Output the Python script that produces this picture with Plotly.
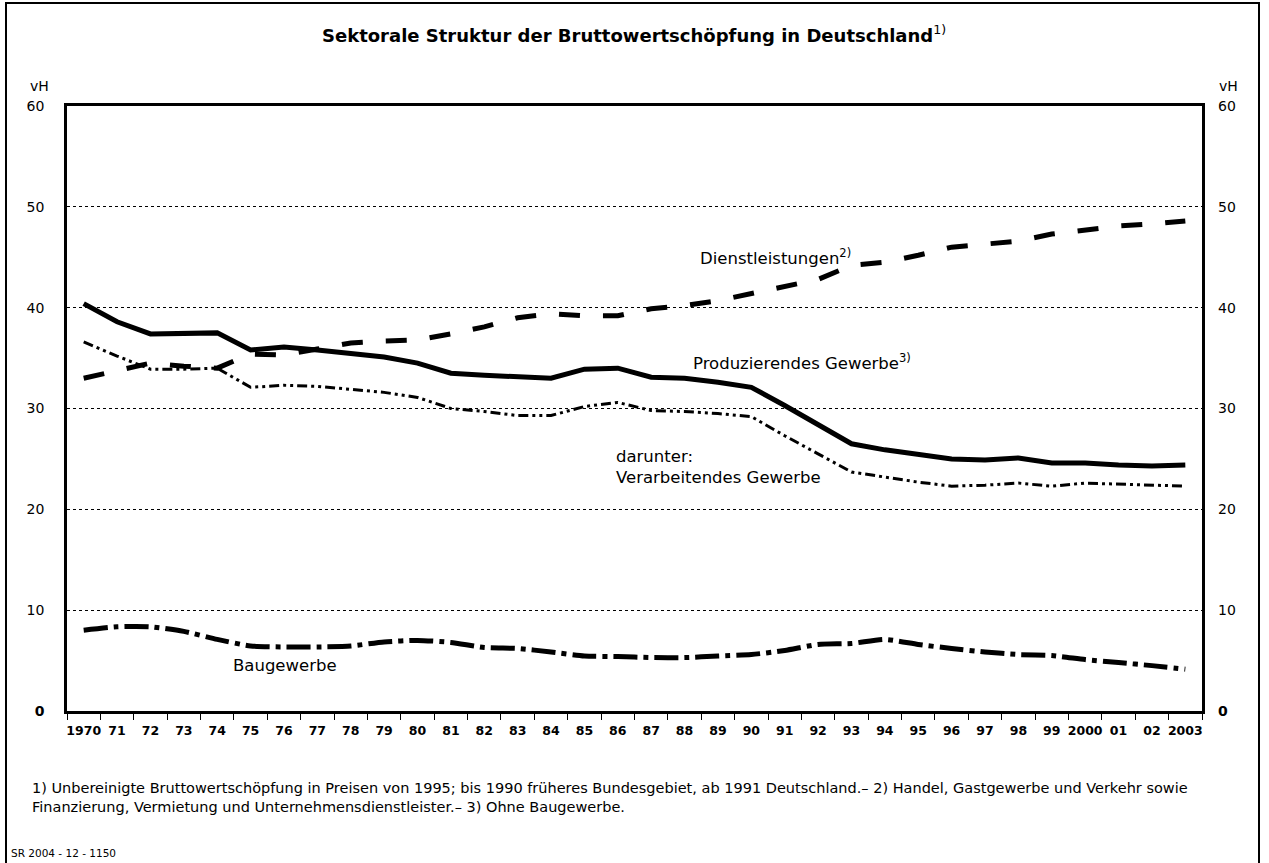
import plotly.graph_objects as go

# Jahre (Kategorien der x-Achse)
jahre = ["1970", "71", "72", "73", "74", "75", "76", "77", "78", "79", "80",
         "81", "82", "83", "84", "85", "86", "87", "88", "89", "90", "91",
         "92", "93", "94", "95", "96", "97", "98", "99", "2000", "01", "02", "2003"]

# Anteile an der Bruttowertschöpfung in vH
produzierendes = [40.4, 38.6, 37.4, 37.5, 37.5, 35.8, 36.1, 35.8, 35.4, 35.1, 34.5,
                  33.5, 33.3, 33.1, 33.0, 33.9, 34.0, 33.1, 33.0, 32.6, 32.1, 30.3,
                  28.4, 26.5, 25.9, 25.4, 25.0, 24.9, 25.1, 24.6, 24.6, 24.4, 24.3, 24.4]
dienstleistungen = [33.0, 33.8, 34.5, 34.2, 34.0, 35.4, 35.3, 35.9, 36.5, 36.7, 36.8,
                    37.4, 38.1, 39.0, 39.4, 39.2, 39.2, 39.9, 40.2, 40.7, 41.4, 42.0,
                    42.8, 44.2, 44.5, 45.2, 46.0, 46.3, 46.6, 47.3, 47.7, 48.1, 48.3, 48.6]
verarbeitendes = [36.6, 35.2, 33.9, 33.9, 34.0, 32.1, 32.3, 32.2, 31.9, 31.6, 31.1,
                  30.0, 29.7, 29.3, 29.3, 30.2, 30.6, 29.8, 29.7, 29.5, 29.2, 27.3,
                  25.5, 23.7, 23.2, 22.7, 22.3, 22.4, 22.6, 22.3, 22.6, 22.5, 22.4, 22.3]
baugewerbe = [8.0, 8.35, 8.35, 7.9, 7.1, 6.45, 6.35, 6.35, 6.45, 6.85, 7.0,
              6.8, 6.3, 6.2, 5.85, 5.45, 5.4, 5.3, 5.3, 5.45, 5.6, 6.0,
              6.6, 6.7, 7.1, 6.6, 6.2, 5.85, 5.6, 5.5, 5.1, 4.8, 4.5, 4.15]

y_ticks = [0, 10, 20, 30, 40, 50, 60]
y_ticktext = ["<b>0</b>", "10", "20", "30", "40", "50", "60"]

FONT = "DejaVu Sans, sans-serif"

fig = go.Figure()

fig.add_trace(go.Scatter(x=jahre, y=dienstleistungen, mode="lines",
                         line=dict(color="black", width=5, dash="21px,23px"),
                         name="Dienstleistungen"))
fig.add_trace(go.Scatter(x=jahre, y=verarbeitendes, mode="lines",
                         line=dict(color="black", width=3,
                                   dash="10px,4px,3px,4px,3px,4px"),
                         name="Verarbeitendes Gewerbe"))
fig.add_trace(go.Scatter(x=jahre, y=produzierendes, mode="lines",
                         line=dict(color="black", width=5),
                         name="Produzierendes Gewerbe"))
fig.add_trace(go.Scatter(x=jahre, y=baugewerbe, mode="lines",
                         line=dict(color="black", width=5, shape="spline",
                                   smoothing=0.6, dash="24px,6px,5px,6px"),
                         name="Baugewerbe"))
# rechte Skala (gleiche Werte wie links), ohne eigene Zeichnung
fig.add_trace(go.Scatter(x=jahre, y=baugewerbe, yaxis="y2", mode="none",
                         showlegend=False, hoverinfo="skip"))

axis_font = dict(family=FONT, size=14, color="black")

fig.update_layout(
    width=1269, height=863,
    margin=dict(l=67, r=67, t=106, b=152),
    paper_bgcolor="white", plot_bgcolor="white",
    showlegend=False,
    xaxis=dict(type="category", categoryorder="array", categoryarray=jahre,
               range=[-0.5, len(jahre) - 0.5], tickangle=0,
               tickson="boundaries", ticks="outside", ticklen=6, tickwidth=1.3,
               tickcolor="black", showline=True, linewidth=2.5, linecolor="black",
               mirror=True, showgrid=False, zeroline=False,
               tickfont=dict(family=FONT, size=12.5, color="black", weight="bold"),
               ticklabelstandoff=6),
    yaxis=dict(range=[0, 60], tickmode="array", tickvals=y_ticks, ticktext=y_ticktext,
               showline=True, linewidth=2.5, linecolor="black", mirror=True,
               showgrid=True, gridcolor="black", griddash="dot", gridwidth=1.3,
               zeroline=False, ticks="", tickfont=axis_font, ticklabelstandoff=17),
    yaxis2=dict(range=[0, 60], tickmode="array", tickvals=y_ticks, ticktext=y_ticktext,
                overlaying="y", side="right", showgrid=False, zeroline=False,
                showline=False, ticks="", tickfont=axis_font, ticklabelstandoff=15),
)

label_font = dict(family=FONT, size=16.5, color="black")

annotations = [
    dict(text="<b>Sektorale Struktur der Bruttowertschöpfung in Deutschland</b><sup>1)</sup>",
         xref="paper", yref="paper", x=0.4996, y=1.119, xanchor="center", yanchor="middle",
         showarrow=False, font=dict(family=FONT, size=18, color="black")),
    dict(text="vH", xref="paper", yref="paper", x=(28 - 67) / 1135, y=(711 - 86) / 605,
         xanchor="left", yanchor="middle", showarrow=False, font=axis_font),
    dict(text="vH", xref="paper", yref="paper", x=(1217 - 67) / 1135, y=(711 - 86) / 605,
         xanchor="left", yanchor="middle", showarrow=False, font=axis_font),
    dict(text="Dienstleistungen<sup>2)</sup>", xref="paper", yref="y",
         x=(698 - 67) / 1135, y=45.0, xanchor="left", yanchor="middle",
         showarrow=False, font=label_font),
    dict(text="Produzierendes Gewerbe<sup>3)</sup>", xref="paper", yref="y",
         x=(691 - 67) / 1135, y=34.6, xanchor="left", yanchor="middle",
         showarrow=False, font=label_font),
    dict(text="darunter:<br>Verarbeitendes Gewerbe", xref="paper", yref="y",
         x=(614 - 67) / 1135, y=24.2, xanchor="left", yanchor="middle", align="left",
         showarrow=False, font=label_font),
    dict(text="Baugewerbe", xref="paper", yref="y",
         x=(231 - 67) / 1135, y=4.55, xanchor="left", yanchor="middle",
         showarrow=False, font=label_font),
    dict(text="1) Unbereinigte Bruttowertschöpfung in Preisen von 1995; bis 1990 früheres "
              "Bundesgebiet, ab 1991 Deutschland.– 2) Handel, Gastgewerbe und Verkehr sowie<br>"
              "Finanzierung, Vermietung und Unternehmensdienstleister.– 3) Ohne Baugewerbe.",
         xref="paper", yref="paper", x=(30 - 67) / 1135, y=(711 - 797) / 605,
         xanchor="left", yanchor="middle", align="left", showarrow=False,
         font=dict(family=FONT, size=14.5, color="black")),
    dict(text="SR 2004 - 12 - 1150", xref="paper", yref="paper",
         x=(9 - 67) / 1135, y=(711 - 853) / 605, xanchor="left", yanchor="middle",
         showarrow=False, font=dict(family=FONT, size=10.5, color="black")),
]
fig.update_layout(annotations=annotations)

# Rahmen um die gesamte Grafik
fig.add_shape(type="rect", xref="paper", yref="paper",
              x0=(6 - 67) / 1135, x1=(1259 - 67) / 1135,
              y0=(711 - 900) / 605, y1=(711 - 3) / 605,
              line=dict(color="black", width=2), fillcolor="rgba(0,0,0,0)", layer="above")

fig.write_html("out.html")
